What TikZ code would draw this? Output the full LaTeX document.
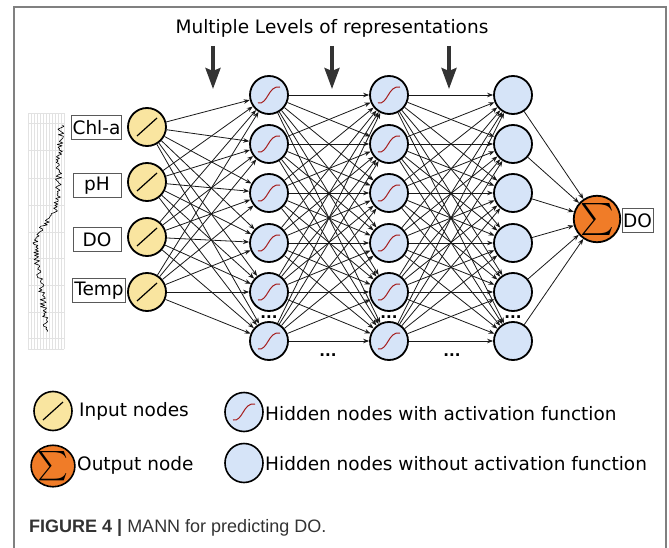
\documentclass[tikz,border=0pt]{standalone}
\usepackage{fontspec}
\usepackage{graphicx}
\setmainfont{DejaVu Sans}
\newfontfamily\capfont{Liberation Sans}
\usetikzlibrary{arrows.meta,shapes.geometric}
\definecolor{inyel}{HTML}{F9E5A0}
\definecolor{hidblue}{HTML}{D6E4F8}
\definecolor{outor}{HTML}{F07C28}
\definecolor{sigred}{HTML}{A51C1C}
\definecolor{framegray}{HTML}{808080}
\definecolor{capgray}{HTML}{333333}
\definecolor{gridgray}{HTML}{E2E2E2}
\tikzset{
 neuron/.style={circle, draw=black, line width=1.8pt, minimum size=38pt, inner sep=0pt},
 innode/.style={neuron, fill=inyel},
 hidnode/.style={neuron, fill=hidblue},
 outnode/.style={neuron, fill=outor},
 legnode/.style={ellipse, draw=black, line width=1.6pt, minimum width=38pt, minimum height=39pt, inner sep=0pt},
 labelbox/.style={draw=black!65, line width=0.8pt, fill=white, inner sep=1.5pt, minimum height=24pt, minimum width=48pt, font=\fontsize{18.5}{20}\selectfont},
 edge/.style={draw=black!90, line width=0.8pt, -{Stealth[length=6pt,width=4.5pt]}},
 bigarrow/.style={draw=black!80, line width=3.5pt, -{Stealth[length=21pt,width=15pt,inset=3pt]}},
 txt/.style={font=\fontsize{18.5}{22}\selectfont, inner sep=0pt},
 dotsnode/.style={font=\bfseries\fontsize{15}{15}\selectfont, inner sep=0pt},
 sigm/.pic={\draw[sigred, line width=1pt] (-11,8) .. controls (-1,10) and (-1,-10) .. (11,-8);},
 linf/.pic={\draw[black, line width=1.2pt] (-10,9) -- (10,-9);},
 declare function={ss(\t)=min(max((\t-0.37)/0.2,0),1);}
}
\begin{document}
\begin{tikzpicture}[x=1pt,y=-1pt]
\useasboundingbox (0,0) rectangle (669,548);
% frame
\coordinate (f1) at (14,548); \coordinate (f2) at (14,7);
\coordinate (f3) at (666,7); \coordinate (f4) at (666,548);
\draw[framegray, line width=1.5pt] (f1) -- (f2) -- (f3) -- (f4);
% time series
\foreach \gx in {28,31,34,37,40,43,46,49,52,55,58,61,64} \draw[gridgray, line width=0.4pt] (\gx,113) -- (\gx,349);
\foreach \gy in {113,123,150,178,205,232,258,285,312,338,349} \draw[gridgray, line width=0.6pt] (28,\gy) -- (64,\gy);
\pgfmathsetmacro{\dummy}{0}
\pgfmathsetseed{12}
\draw[black, line width=0.6pt, line join=round] plot[variable=\t, domain=0:1, samples=150] ({61-10*min(\t,0.37)-22*ss(\t)*ss(\t)*(3-2*ss(\t))+30*max(\t-0.6,0)+3.2*rand}, {125+207*\t});
% title
\node[txt] (title) at (332,28) {Multiple Levels of representations};
\foreach \ax [count=\k] in {213,332,449} {
  \coordinate (as\k) at (\ax,46);
  \coordinate (ae\k) at (\ax,89);
  \draw[bigarrow] (as\k) -- (ae\k);
}
% nodes
\foreach \i/\y in {1/127,2/182,3/237,4/292} {
  \node[innode] (i\i) at (147,\y) {};
  \pic at (i\i) {linf};
}
\foreach \c/\x in {1/269,2/389,3/513} {
  \foreach \r/\y in {1/95,2/144,3/193,4/243,5/292,6/341} {
    \node[hidnode] (h\c-\r) at (\x,\y) {};
  }
}
\foreach \c in {1,2} \foreach \r in {1,...,6} \pic at (h\c-\r) {sigm};
\node[outnode, minimum size=39pt] (o) at (597,219) {\resizebox{!}{24pt}{$\sum$}};
% labels
\node[labelbox] (lchl) at (96.5,127.5) {Chl-a};
\node[labelbox] (lph) at (97,185.5) {pH};
\node[labelbox] (ldo) at (97,239.5) {DO};
\node[labelbox] (ltemp) at (99,290.5) {Temp};
\node[labelbox, minimum width=31pt, inner sep=1pt] (lout) at (637.5,220.5) {DO};
% edges
\foreach \a in {1,...,4} \foreach \b in {1,...,6} \draw[edge] (i\a) -- (h1-\b);
\foreach \a in {1,...,6} \foreach \b in {1,...,6} {
  \draw[edge] (h1-\a) -- (h2-\b);
  \draw[edge] (h2-\a) -- (h3-\b);
}
\foreach \a in {1,...,6} \draw[edge] (h3-\a) -- (o);
% dots
\foreach \x [count=\k] in {269,389,513} \node[dotsnode] (dv\k) at (\x,317) {...};
\node[dotsnode] (dh1) at (328,355) {...};
\node[dotsnode] (dh2) at (452,355) {...};
% legend
\node[legnode, fill=inyel] (g1) at (53,411) {};
\pic at (g1) {linf};
\node[txt, anchor=base west] (g1t) at (79,416) {Input nodes};
\node[legnode, fill=hidblue] (g2) at (244,412) {};
\pic at (g2) {sigm};
\node[txt, anchor=base west] (g2t) at (265,420) {Hidden nodes with activation function};
\node[legnode, fill=outor] (g3) at (53,466) {\resizebox{!}{22pt}{$\sum$}};
\node[txt, anchor=base west] (g3t) at (77,470) {Output node};
\node[legnode, fill=hidblue] (g4) at (244,463) {};
\node[txt, anchor=base west] (g4t) at (265,470) {Hidden nodes without activation function};
% caption
\node[anchor=base west, inner sep=0pt, font=\capfont\fontsize{18}{20}\selectfont, text=capgray] (cap) at (29,532) {\textbf{FIGURE 4 |} MANN for predicting DO.};
\end{tikzpicture}
\end{document}
